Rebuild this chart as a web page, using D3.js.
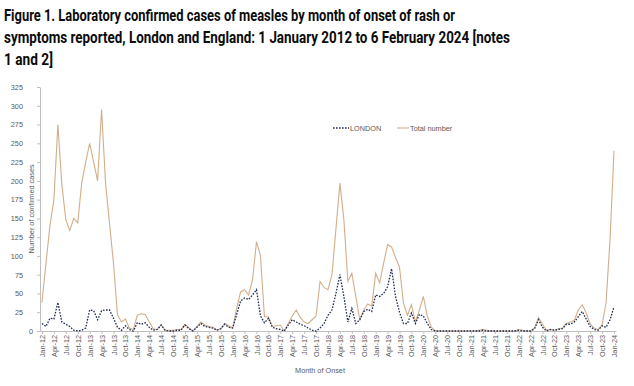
<!DOCTYPE html>
<html>
<head>
<meta charset="utf-8">
<script src="https://cdn.jsdelivr.net/npm/d3@7"></script>
<style>
  body { margin: 0; background: #fff; }
  svg { display: block; }
</style>
</head>
<body>
<script>
var width = 634
var height = 386

var titleLines = [
  "Figure 1. Laboratory confirmed cases of measles by month of onset of rash or",
  "symptoms reported, London and England: 1 January 2012 to 6 February 2024 [notes",
  "1 and 2]"
]

var monthNames = ["Jan", "Feb", "Mar", "Apr", "May", "Jun", "Jul", "Aug", "Sep", "Oct", "Nov", "Dec"]
var years = ["12", "13", "14", "15", "16", "17", "18", "19", "20", "21", "22", "23", "24"]

// monthly counts Jan-12 .. Jan-24
var total = [
  38, 90, 140, 175, 275, 195, 148, 134, 150, 144, 197, 225,
  250, 225, 200, 295, 197, 143, 90, 22, 12, 16, 4, 2,
  21, 23, 22, 12, 3, 2, 8, 1, 1, 1, 2, 2,
  9, 4, 0, 6, 12, 8, 6, 5, 1, 3, 10, 7,
  4, 30, 52, 55, 48, 68, 119, 100, 19, 19, 6, 7,
  8, 0, 10, 20, 28, 18, 12, 10, 15, 20, 66, 58,
  55, 75, 136, 197, 148, 66, 77, 46, 15, 28, 36, 33,
  77, 64, 90, 115, 112, 98, 85, 37, 21, 35, 12, 28,
  46, 20, 5, 0, 0, 0, 0, 0, 0, 0, 0, 0,
  0, 0, 1, 2, 1, 0, 0, 0, 0, 0, 0, 0,
  2, 1, 0, 0, 4, 18, 9, 1, 2, 1, 3, 4,
  10, 12, 14, 28, 35, 24, 9, 4, 2, 8, 38, 122,
  240
]

var london = [
  10, 6, 17, 16, 38, 12, 9, 6, 1, 0, 1, 4,
  28, 27, 15, 27, 28, 28, 17, 5, 1, 7, 2, 0,
  11, 9, 11, 5, 1, 2, 8, 1, 0, 0, 1, 1,
  8, 3, 0, 5, 10, 6, 5, 4, 1, 3, 9, 5,
  4, 22, 40, 44, 42, 48, 55, 20, 11, 17, 5, 3,
  2, 0, 8, 15, 12, 9, 7, 4, 1, 0, 4, 10,
  21, 28, 50, 75, 46, 12, 30, 10, 15, 26, 29, 26,
  48, 46, 50, 59, 83, 46, 25, 10, 10, 24, 10, 22,
  20, 10, 2, 0, 0, 0, 0, 0, 0, 0, 0, 0,
  0, 0, 0, 1, 0, 0, 0, 0, 0, 0, 0, 0,
  1, 0, 0, 0, 3, 15, 5, 0, 2, 1, 2, 3,
  9, 9, 12, 19, 26, 16, 6, 2, 1, 7, 5, 15,
  32
]

var yTicks = [0, 25, 50, 75, 100, 125, 150, 175, 200, 225, 250, 275, 300, 325]

var months = []
years.forEach(function (y) {
  monthNames.forEach(function (m) { months.push(m + "-" + y) })
})
months = months.slice(0, total.length)

var svg = d3.select("body").append("svg")
  .attr("width", width)
  .attr("height", height)

// title
var title = svg.append("g")
  .attr("font-family", "Roboto, 'Liberation Sans', sans-serif")
  .attr("font-weight", 700)
  .attr("font-size", 16.5)
  .attr("fill", "#0b0c0c")
var titleWidths = [451, 506, 49]
title.selectAll("text")
  .data(titleLines)
  .enter()
  .append("text")
  .attr("x", 4)
  .attr("y", (d, i) => 20.5 + i * 22)
  .attr("textLength", (d, i) => titleWidths[i])
  .attr("lengthAdjust", "spacingAndGlyphs")
  .text(d => d)

var x = d3.scalePoint()
  .domain(months)
  .range([40, 616])
  .padding(0.5)

var y = d3.scaleLinear()
  .domain([0, 325])
  .range([331, 87])

var axisColor = "#bfbfbf"
var textColor = "#595959"
var font = "'Liberation Sans', Arial, sans-serif"

// x axis
var xAxis = svg.append("g")
  .attr("transform", "translate(0," + y(0) + ")")
  .call(d3.axisBottom(x)
    .tickValues(months.filter((d, i) => i % 3 === 0))
    .tickSize(3)
    .tickSizeOuter(0))
xAxis.select(".domain").attr("stroke", axisColor)
xAxis.selectAll(".tick line").attr("stroke", axisColor)
xAxis.selectAll(".tick text")
  .attr("font-family", font)
  .attr("font-size", 7.3)
  .attr("fill", textColor)
  .attr("transform", "rotate(-90)")
  .attr("text-anchor", "end")
  .attr("x", -4)
  .attr("y", 0)
  .attr("dy", "0.35em")

// y axis
var yAxis = svg.append("g")
  .attr("transform", "translate(40,0)")
  .call(d3.axisLeft(y)
    .tickValues(yTicks)
    .tickSize(3)
    .tickSizeOuter(0))
yAxis.select(".domain").attr("stroke", axisColor)
yAxis.selectAll(".tick line").attr("stroke", axisColor)
yAxis.selectAll(".tick text")
  .attr("font-family", font)
  .attr("font-size", 7.3)
  .attr("fill", textColor)
  .attr("x", d => d === 0 ? -7 : -17)

svg.append("text")
  .attr("transform", "translate(34," + (y(0) + y(325)) / 2 + ") rotate(-90)")
  .attr("text-anchor", "middle")
  .attr("font-family", font)
  .attr("font-size", 7.3)
  .attr("fill", textColor)
  .text("Number of confirmed cases")

svg.append("text")
  .attr("x", 320)
  .attr("y", 373)
  .attr("text-anchor", "middle")
  .attr("font-family", font)
  .attr("font-size", 7.3)
  .attr("fill", textColor)
  .text("Month of Onset")

// lines
var line = data => d3.line()
  .x((d, i) => x(months[i]))
  .y(d => y(d))(data)

svg.append("path")
  .attr("d", line(total))
  .attr("fill", "none")
  .attr("stroke", "#d2ae8a")
  .attr("stroke-width", 1.1)

svg.append("path")
  .attr("d", line(london))
  .attr("fill", "none")
  .attr("stroke", "#1d2a52")
  .attr("stroke-width", 1.3)
  .attr("stroke-dasharray", "1.6,1.4")

// legend
var legend = svg.append("g")
  .attr("font-family", font)
  .attr("font-size", 7.3)
  .attr("fill", textColor)
legend.append("line")
  .attr("x1", 333).attr("x2", 349)
  .attr("y1", 128).attr("y2", 128)
  .attr("stroke", "#1d2a52")
  .attr("stroke-width", 1.3)
  .attr("stroke-dasharray", "1.6,1.4")
legend.append("text")
  .attr("x", 350).attr("y", 130.5)
  .text("LONDON")
legend.append("line")
  .attr("x1", 397).attr("x2", 409)
  .attr("y1", 128).attr("y2", 128)
  .attr("stroke", "#d2ae8a")
  .attr("stroke-width", 1.1)
legend.append("text")
  .attr("x", 410).attr("y", 130.5)
  .text("Total number")
</script>
</body>
</html>
